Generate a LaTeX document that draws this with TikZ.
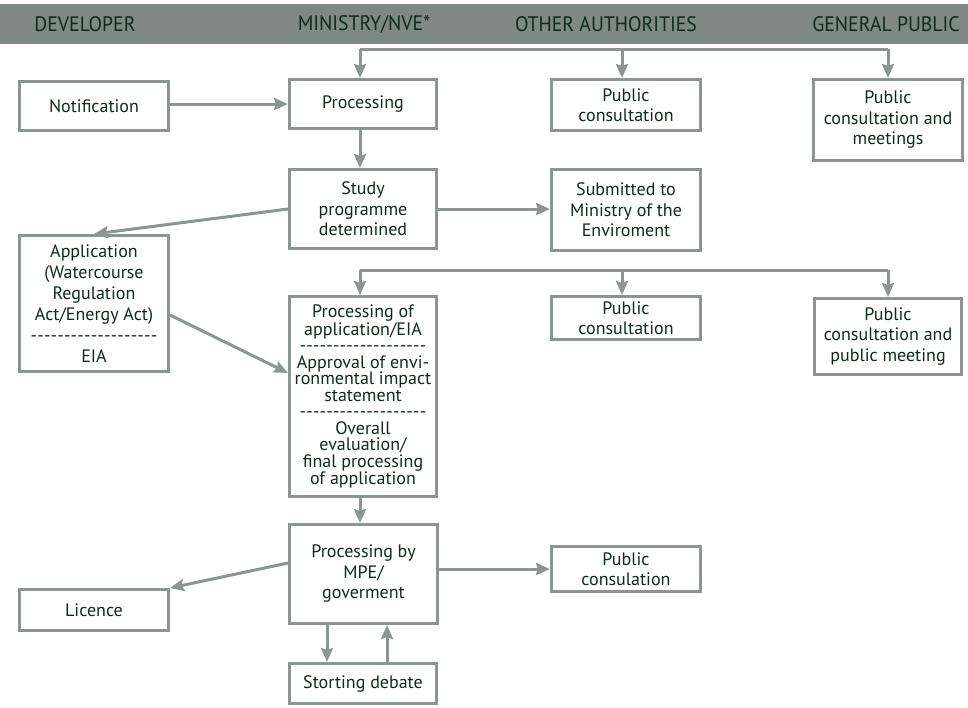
\documentclass[tikz,border=0pt]{standalone}
\usepackage{fontspec}
\setmainfont{PT Sans}
\newfontfamily\headfont[FakeStretch=0.94]{PT Sans}
\usepackage{tikz}
\usetikzlibrary{arrows.meta,calc}
\usepackage{xcolor}
\definecolor{headgray}{HTML}{7E8884}
\definecolor{linegray}{HTML}{8C9592}
\definecolor{textgreen}{HTML}{112A1B}
\newcommand\dashrow{\hbox to 127pt{\xleaders\hbox{-}\hfill}}

\begin{document}
\begin{tikzpicture}[x=1pt,y=-1pt,
  box/.style={draw=linegray,line width=3pt,fill=white,text=textgreen,align=center,
    inner sep=1pt,minimum width=149pt,font=\fontsize{18}{20.5}\selectfont},
  link/.style={draw=linegray,line width=3pt},
  arr/.style={link,-{Stealth[length=14pt,width=12pt,inset=2pt]}},
  head/.style={text=textgreen,font=\headfont\fontsize{21}{22}\selectfont}]%
\useasboundingbox (0,0) rectangle (968,707);
\fill[headgray] (0,4) rectangle (968,44);
\node[head] (hdev) at (85,24) {DEVELOPER};
\node[head] (hmin) at (364,24) {MINISTRY/NVE*};
\node[head] (hoth) at (606,24) {OTHER AUTHORITIES};
\node[head] (hgen) at (886,24) {GENERAL PUBLIC};

\node[box,minimum height=49pt] (notif) at (94,106) {Notification};
\node[box,minimum width=147pt,minimum height=49pt] (proc) at (363,104) {Processing};
\node[box,minimum height=51pt] (pubA) at (626,105) {Public\\consultation};
\node[box,minimum height=81pt] (pubB) at (888,120) {Public\\consultation and\\meetings};
\node[box,minimum width=147pt,minimum height=79pt] (study) at (363,209) {Study\\programme\\determined};
\node[box,minimum height=81pt] (submit) at (626,210) {Submitted to\\Ministry of the\\Enviroment};
\node[box,minimum height=136pt,font=\fontsize{18}{21}\selectfont] (appl) at (94,303.5)
  {Application\\(Watercourse\\Regulation\\Act/Energy Act)\\\dashrow\\EIA};
\node[box,minimum width=147pt,minimum height=200pt,font=\fontsize{18}{16.5}\selectfont] (eval) at (363,396.5)
  {Processing of\\application/EIA\\\dashrow\\Approval of envi-\\ronmental impact\\statement\\\dashrow\\Overall\\evaluation/\\final processing\\of application};
\node[box,minimum height=43pt] (pubC) at (626,318) {Public\\consultation};
\node[box,minimum width=147pt,minimum height=76pt] (pubD) at (888,336.5) {Public\\consultation and\\public meeting};
\node[box,minimum width=148pt,minimum height=99pt] (mpe) at (363.5,574) {Processing by\\MPE/\\goverment};
\node[box,minimum height=45pt] (pubE) at (626,569) {Public\\consulation};
\node[box,minimum height=41pt] (licence) at (94,610) {Licence};
\node[box,minimum width=147pt,minimum height=40pt] (storting) at (363,683.5) {Storting debate};

\coordinate (busA) at (0,49);
\coordinate (busB) at (0,270);
\draw[link] ([xshift=-3pt]busA -| proc.north) -- (busA -| pubB.north);
\foreach \n/\s in {proc/-3pt,pubA/-4pt,pubB/0pt}
  \draw[arr] ([xshift=\s]busA -| \n.north) -- ([xshift=\s]\n.north);
\draw[link] ([xshift=-3pt]busB -| eval.north) -- (busB -| pubD.north);
\foreach \n/\s in {eval/-3pt,pubC/-4pt,pubD/0pt}
  \draw[arr] ([xshift=\s]busB -| \n.north) -- ([xshift=\s]\n.north);

\draw[arr] (notif.east |- proc.west) -- (proc.west);
\draw[arr] ([xshift=-3pt]proc.south) -- ([xshift=-3pt]study.north);
\draw[arr] (study.west) -- (appl.north);
\draw[arr] (study.east) -- (study.east -| submit.west);
\draw[arr] ([yshift=-11.5pt]appl.east) -- ([yshift=23.5pt]eval.west);
\draw[arr] ([xshift=-3pt]eval.south) -- ([xshift=-3.5pt]mpe.north);
\draw[arr] ([yshift=11pt]mpe.west) -- (licence.north east);
\draw[arr] (mpe.east |- pubE.west) -- (pubE.west);
\draw[arr] ([xshift=-36.5pt]mpe.south) -- ([xshift=-36pt]storting.north);
\draw[arr] ([xshift=24pt]storting.north) -- ([xshift=23.5pt]mpe.south);
\end{tikzpicture}
\end{document}
